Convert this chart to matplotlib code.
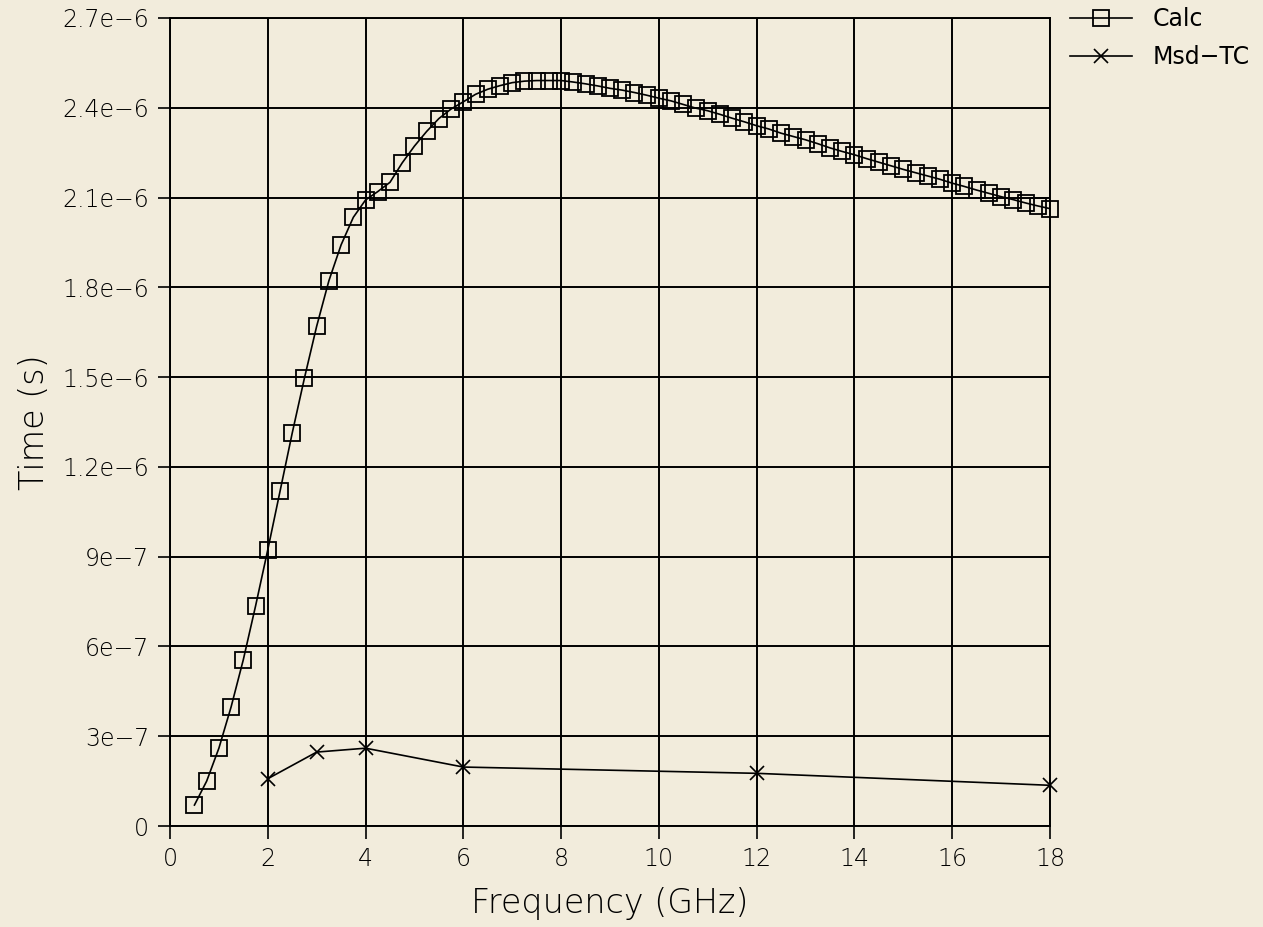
import matplotlib
matplotlib.use("Agg")
import matplotlib.pyplot as plt

# Calculated time constant vs frequency (GHz, seconds)
calc_freq = [0.5, 0.75, 1.0, 1.25, 1.5, 1.75, 2.0, 2.25, 2.5, 2.75,
             3.0, 3.25, 3.5, 3.75, 4.0, 4.25, 4.5, 4.75, 5.0, 5.25,
             5.5, 5.75, 6.0, 6.25, 6.5, 6.75, 7.0, 7.25, 7.5, 7.75,
             8.0, 8.25, 8.5, 8.75, 9.0, 9.25, 9.5, 9.75, 10.0, 10.25,
             10.5, 10.75, 11.0, 11.25, 11.5, 11.75, 12.0, 12.25, 12.5, 12.75,
             13.0, 13.25, 13.5, 13.75, 14.0, 14.25, 14.5, 14.75, 15.0, 15.25,
             15.5, 15.75, 16.0, 16.25, 16.5, 16.75, 17.0, 17.25, 17.5, 17.75,
             18.0]
calc_time = [0.070e-6, 0.150e-6, 0.260e-6, 0.398e-6, 0.556e-6, 0.735e-6, 0.923e-6, 1.118e-6, 1.313e-6, 1.497e-6,
             1.670e-6, 1.822e-6, 1.942e-6, 2.034e-6, 2.092e-6, 2.120e-6, 2.151e-6, 2.216e-6, 2.272e-6, 2.321e-6,
             2.364e-6, 2.396e-6, 2.420e-6, 2.445e-6, 2.462e-6, 2.474e-6, 2.484e-6, 2.489e-6, 2.491e-6, 2.491e-6,
             2.491e-6, 2.486e-6, 2.480e-6, 2.473e-6, 2.465e-6, 2.459e-6, 2.451e-6, 2.442e-6, 2.432e-6, 2.423e-6,
             2.411e-6, 2.399e-6, 2.390e-6, 2.378e-6, 2.365e-6, 2.353e-6, 2.340e-6, 2.329e-6, 2.315e-6, 2.304e-6,
             2.293e-6, 2.280e-6, 2.266e-6, 2.254e-6, 2.243e-6, 2.230e-6, 2.218e-6, 2.206e-6, 2.194e-6, 2.183e-6,
             2.172e-6, 2.161e-6, 2.148e-6, 2.137e-6, 2.125e-6, 2.114e-6, 2.103e-6, 2.093e-6, 2.082e-6, 2.072e-6,
             2.063e-6]

# Measured (thermocouple) values
msd_freq = [2, 3, 4, 6, 12, 18]
msd_time = [1.58e-7, 2.47e-7, 2.60e-7, 1.97e-7, 1.76e-7, 1.36e-7]

x_ticks = [0, 2, 4, 6, 8, 10, 12, 14, 16, 18]
y_ticks = [0, 3e-7, 6e-7, 9e-7, 1.2e-6, 1.5e-6, 1.8e-6, 2.1e-6, 2.4e-6, 2.7e-6]
y_tick_labels = ["0", "3e\u22127", "6e\u22127", "9e\u22127", "1.2e\u22126", "1.5e\u22126",
                 "1.8e\u22126", "2.1e\u22126", "2.4e\u22126", "2.7e\u22126"]

bg = "#f2ecdc"
W, H = 1263, 927
fig = plt.figure(figsize=(W / 100, H / 100), dpi=100, facecolor=bg)
ax = fig.add_axes([170 / W, 1 - 826 / H, 880 / W, 808 / H], facecolor=bg)

ax.plot(calc_freq, calc_time, color="black", lw=1.2, marker="s", ms=11,
        mfc="none", mec="black", mew=1.3, label="Calc", zorder=3, clip_on=False)
ax.plot(msd_freq, msd_time, color="black", lw=1.2, marker="x", ms=10,
        mew=1.2, label="Msd\u2212TC", zorder=3, clip_on=False)

ax.set_xlim(0, 18)
ax.set_ylim(0, 2.7e-6)
ax.set_xticks(x_ticks)
ax.set_xticklabels([str(v) for v in x_ticks])
ax.set_yticks(y_ticks)
ax.set_yticklabels(y_tick_labels)

ax.grid(True, color="black", lw=1.4)
for s in ax.spines.values():
    s.set_linewidth(1.4)
ax.tick_params(axis="both", direction="out", length=9, width=1.2,
               labelsize=17, pad=6, colors="black")
for lab in ax.get_xticklabels() + ax.get_yticklabels():
    lab.set_fontweight("light")

ax.set_xlabel("Frequency (GHz)", fontsize=24, labelpad=12, fontweight="light")
ax.set_ylabel("Time (s)", fontsize=24, labelpad=8, fontweight="light")

leg = ax.legend(loc="upper left", bbox_to_anchor=(0.999, 1.040), frameon=False,
                fontsize=17, handlelength=2.6, handletextpad=0.9, labelspacing=0.6)

fig.savefig("out.png", dpi=100, facecolor=bg)
